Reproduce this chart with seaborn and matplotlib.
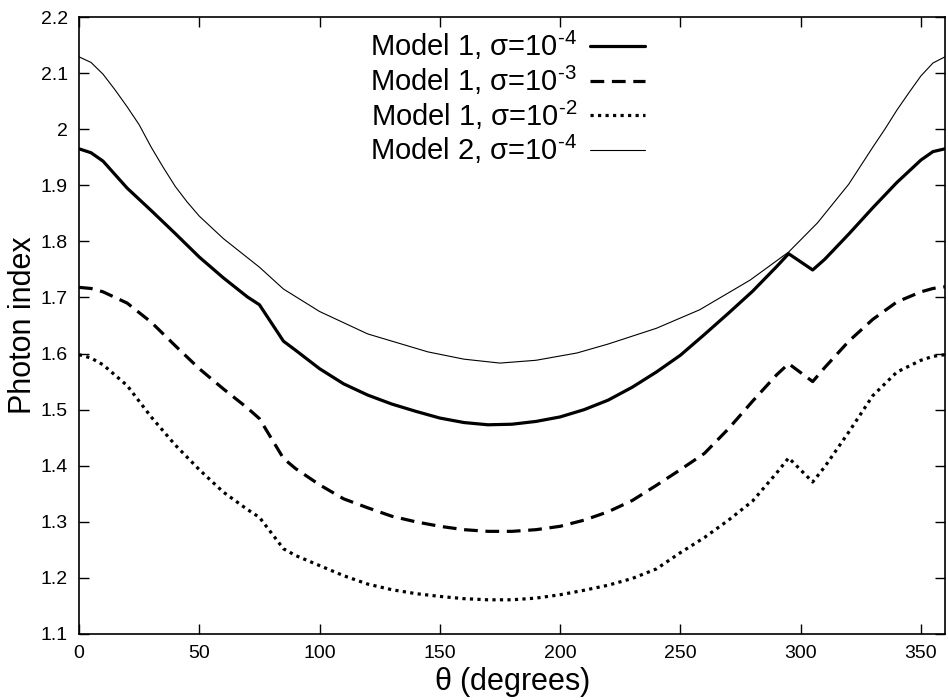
import numpy as np
import pandas as pd
import matplotlib
matplotlib.use("Agg")
import matplotlib.pyplot as plt
from matplotlib.ticker import FuncFormatter
import seaborn as sns

# ---- data ----
theta_m1a = [0, 5, 10, 20, 30, 40, 50, 60, 70, 75, 85, 90, 100, 110, 120, 130, 140, 150, 160,
             170, 180, 190, 200, 210, 220, 230, 240, 250, 260, 270, 280, 290, 295, 305, 310,
             320, 330, 340, 350, 355, 360]
gamma_m1a = [1.965, 1.958, 1.943, 1.895, 1.855, 1.814, 1.772, 1.735, 1.701, 1.687, 1.622, 1.606,
             1.573, 1.546, 1.526, 1.510, 1.497, 1.485, 1.477, 1.473, 1.474, 1.479, 1.487, 1.500,
             1.517, 1.540, 1.567, 1.597, 1.634, 1.672, 1.711, 1.755, 1.778, 1.749, 1.768, 1.813,
             1.860, 1.905, 1.945, 1.960, 1.965]

theta_m1b = [0, 5, 10, 20, 30, 40, 50, 60, 70, 75, 85, 90, 100, 110, 120, 130, 140, 150, 160,
             170, 180, 190, 200, 210, 220, 230, 240, 250, 260, 270, 280, 290, 295, 305, 310,
             320, 330, 340, 350, 355, 360]
gamma_m1b = [1.718, 1.716, 1.710, 1.690, 1.656, 1.614, 1.573, 1.537, 1.503, 1.484, 1.413, 1.395,
             1.366, 1.341, 1.325, 1.310, 1.300, 1.292, 1.286, 1.283, 1.283, 1.286, 1.292, 1.303,
             1.318, 1.338, 1.365, 1.393, 1.422, 1.466, 1.515, 1.562, 1.582, 1.550, 1.575, 1.622,
             1.661, 1.692, 1.710, 1.716, 1.719]

theta_m1c = [0, 5, 10, 20, 30, 40, 50, 60, 70, 75, 85, 90, 100, 110, 120, 130, 140, 150, 160,
             170, 180, 190, 200, 210, 220, 230, 240, 250, 260, 270, 280, 290, 295, 305, 310,
             320, 330, 340, 350, 355, 360]
gamma_m1c = [1.598, 1.592, 1.580, 1.543, 1.487, 1.437, 1.393, 1.353, 1.322, 1.308, 1.252, 1.240,
             1.222, 1.204, 1.189, 1.179, 1.172, 1.167, 1.163, 1.161, 1.161, 1.164, 1.170, 1.178,
             1.187, 1.199, 1.216, 1.245, 1.272, 1.303, 1.337, 1.387, 1.414, 1.371, 1.398, 1.460,
             1.525, 1.567, 1.588, 1.595, 1.598]

theta_m2 = [0, 5, 10, 15, 20, 25, 30, 35, 40, 45, 50, 60, 75, 85, 100, 120, 145, 160, 175, 190,
            207, 220, 240, 258, 279, 295, 307, 320, 325, 330, 335, 340, 345, 350, 355, 360]
gamma_m2 = [2.129, 2.119, 2.098, 2.070, 2.040, 2.008, 1.968, 1.932, 1.898, 1.870, 1.845, 1.805,
            1.754, 1.715, 1.675, 1.635, 1.603, 1.590, 1.583, 1.588, 1.601, 1.617, 1.645, 1.678,
            1.731, 1.781, 1.833, 1.902, 1.935, 1.968, 2.000, 2.034, 2.065, 2.095, 2.118, 2.129]

labels = [r"Model 1, $\sigma$=10$^{\text{-4}}$",
          r"Model 1, $\sigma$=10$^{\text{-3}}$",
          r"Model 1, $\sigma$=10$^{\text{-2}}$",
          r"Model 2, $\sigma$=10$^{\text{-4}}$"]

xticks = [0, 50, 100, 150, 200, 250, 300, 350]
yticks = [1.1, 1.2, 1.3, 1.4, 1.5, 1.6, 1.7, 1.8, 1.9, 2.0, 2.1, 2.2]

# ---- style ----
sns.set_theme(style="ticks")
plt.rcParams["font.family"] = ["Liberation Sans", "DejaVu Sans"]
plt.rcParams["mathtext.fontset"] = "custom"
plt.rcParams["mathtext.rm"] = "Liberation Sans"
plt.rcParams["mathtext.it"] = "Liberation Sans"
plt.rcParams["mathtext.sf"] = "Liberation Sans"
for k in ["text.color", "axes.labelcolor", "xtick.color", "ytick.color", "axes.edgecolor"]:
    plt.rcParams[k] = "black"

fig = plt.figure(figsize=(9.48, 7.0), dpi=100)
ax = fig.add_axes([79 / 948, 1 - 634 / 700, (945 - 79) / 948, (634 - 17) / 700])

series = [
    (theta_m1a, gamma_m1a, dict(linewidth=2.3, linestyle="-")),
    (theta_m1b, gamma_m1b, dict(linewidth=2.3, linestyle=(0, (4.3, 2.4)))),
    (theta_m1c, gamma_m1c, dict(linewidth=2.3, linestyle=(0, (1.0, 1.35)), dash_capstyle="butt")),
    (theta_m2, gamma_m2, dict(linewidth=0.8, linestyle="-")),
]
for (tx, gy, kw), lab in zip(series, labels):
    df = pd.DataFrame({"theta": tx, "gamma": gy})
    sns.lineplot(data=df, x="theta", y="gamma", ax=ax, color="black", estimator=None,
                 sort=False, label=lab, **kw)

ax.set_xlim(0, 360)
ax.set_ylim(1.1, 2.2)
ax.set_xticks(xticks)
ax.set_yticks(yticks)
ax.yaxis.set_major_formatter(FuncFormatter(lambda v, p: "%g" % round(v, 2)))
ax.tick_params(direction="in", length=7, width=1.0, top=True, right=True,
               labelsize=14, colors="black", pad=8)
for s in ax.spines.values():
    s.set_linewidth(1.2)
    s.set_color("black")
    s.set_visible(True)

ax.set_xlabel(r"$\theta$ (degrees)", fontsize=22, labelpad=2)
ax.set_ylabel("Photon index", fontsize=22, labelpad=2)

leg = ax.legend(loc="upper center", bbox_to_anchor=(0.495, 0.997), frameon=False,
                markerfirst=False, fontsize=21, handlelength=1.88, handletextpad=0.45,
                labelspacing=0.05, borderaxespad=0.0, borderpad=0.35)
for t in leg.get_texts():
    t.set_ha("right")

fig.savefig("out.png", dpi=100)
